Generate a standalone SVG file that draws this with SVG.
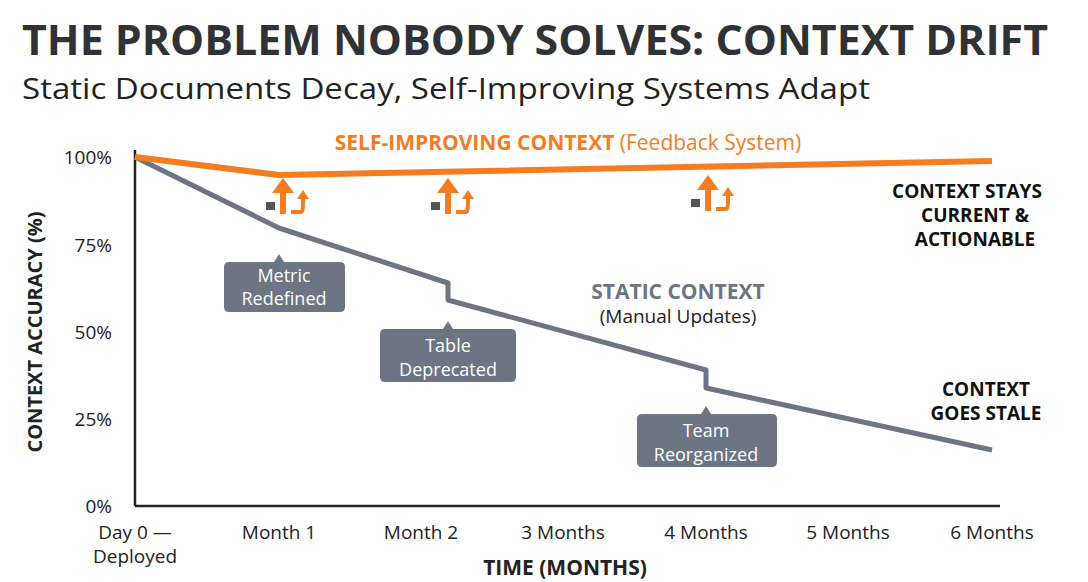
<svg xmlns="http://www.w3.org/2000/svg" width="1088" height="582" viewBox="0 0 1088 582">
<style>
text{font-family:"Open Sans","Liberation Sans",sans-serif}
.t{font-weight:700;fill:#2f3236}
.tag{fill:#6b7583}
.tt{font-size:18px;fill:#fff;text-anchor:middle}
.up{fill:#f57c1f}
.hk{fill:none;stroke:#f57c1f;stroke-width:4}
</style>
<rect width="1088" height="582" fill="#fff"/>
<text x="22" y="55" class="t" font-size="42" textLength="1026" lengthAdjust="spacingAndGlyphs">THE PROBLEM NOBODY SOLVES: CONTEXT DRIFT</text>
<text x="22" y="99" font-size="30" fill="#222" textLength="848" lengthAdjust="spacingAndGlyphs">Static Documents Decay, Self-Improving Systems Adapt</text>
<g id="axes" stroke="#222" stroke-width="2.5">
<line x1="135" y1="150" x2="135" y2="506"/>
<line x1="135" y1="506" x2="1000" y2="506"/>
</g>
<g font-size="19" fill="#222" text-anchor="end">
<text x="112" y="164">100%</text><text x="112" y="252">75%</text><text x="112" y="339">50%</text><text x="112" y="426">25%</text><text x="112" y="513">0%</text>
</g>
<text transform="translate(42,332) rotate(-90)" text-anchor="middle" font-size="20" font-weight="700" fill="#222">CONTEXT ACCURACY (%)</text>
<g font-size="19" fill="#222" text-anchor="middle">
<text x="135" y="539">Day 0 —</text><text x="135" y="563">Deployed</text>
<text x="279" y="539">Month 1</text><text x="421" y="539">Month 2</text><text x="563" y="539">3 Months</text>
<text x="706" y="539">4 Months</text><text x="848" y="539">5 Months</text><text x="992" y="539">6 Months</text>
</g>
<text x="565" y="575" text-anchor="middle" font-size="21" font-weight="700" fill="#222">TIME (MONTHS)</text>
<g id="connectors">
<polyline points="135,157 279,228 448,283 448,300 706,370 706,388 992,450" fill="none" stroke="#6b7583" stroke-width="5" stroke-linejoin="round"/>
<polyline points="135,157 279,175 992,161" fill="none" stroke="#f57c1f" stroke-width="6" stroke-linejoin="round"/>
</g>
<text x="568" y="150" text-anchor="middle" font-size="21" fill="#f57c1f"><tspan font-weight="700">SELF-IMPROVING CONTEXT</tspan> (Feedback System)</text>
<g id="arrows">
<g transform="translate(283,0)"><polygon class="up" points="-3,214 3,214 3,193 11,193 0,178 -11,193 -3,193"/><path class="hk" d="M8,212 H18 Q20,212 20,204 V198"/><polygon class="up" points="14,199 26,199 20,190"/><rect x="-17" y="202" width="9" height="8" fill="#555"/></g>
<g transform="translate(448,0)"><polygon class="up" points="-3,214 3,214 3,193 11,193 0,178 -11,193 -3,193"/><path class="hk" d="M8,212 H18 Q20,212 20,204 V198"/><polygon class="up" points="14,199 26,199 20,190"/><rect x="-17" y="202" width="9" height="8" fill="#555"/></g>
<g transform="translate(708,0)"><polygon class="up" points="-3,211 3,211 3,190 11,190 0,175 -11,190 -3,190"/><path class="hk" d="M8,209 H18 Q20,209 20,201 V195"/><polygon class="up" points="14,196 26,196 20,187"/><rect x="-17" y="199" width="9" height="8" fill="#555"/></g>
</g>
<g id="n1"><path class="tag" d="M224,262 H274 L279,254 L284,262 H340 Q345,262 345,267 V307 Q345,312 340,312 H229 Q224,312 224,307 V267 Q224,262 229,262Z"/><text class="tt" x="284" y="282">Metric</text><text class="tt" x="284" y="305">Redefined</text></g>
<g id="n2"><path class="tag" d="M380,329 H443 L448,321 L453,329 H511 Q516,329 516,334 V377 Q516,382 511,382 H385 Q380,382 380,377 V334 Q380,329 385,329Z"/><text class="tt" x="448" y="352">Table</text><text class="tt" x="448" y="376">Deprecated</text></g>
<g id="n3"><path class="tag" d="M637,414 H701 L706,406 L711,414 H772 Q777,414 777,419 V462 Q777,467 772,467 H642 Q637,467 637,462 V419 Q637,414 642,414Z"/><text class="tt" x="706" y="437">Team</text><text class="tt" x="706" y="461">Reorganized</text></g>
<text x="678" y="299" text-anchor="middle" font-size="21" font-weight="700" fill="#6b7583">STATIC CONTEXT</text>
<text x="678" y="323" text-anchor="middle" font-size="19" fill="#222">(Manual Updates)</text>
<g font-size="19" font-weight="700" fill="#111" text-anchor="middle">
<text x="967" y="198">CONTEXT STAYS</text><text x="975" y="222">CURRENT &amp;</text><text x="975" y="246">ACTIONABLE</text>
<text x="986" y="396">CONTEXT</text><text x="986" y="420">GOES STALE</text>
</g>
</svg>
